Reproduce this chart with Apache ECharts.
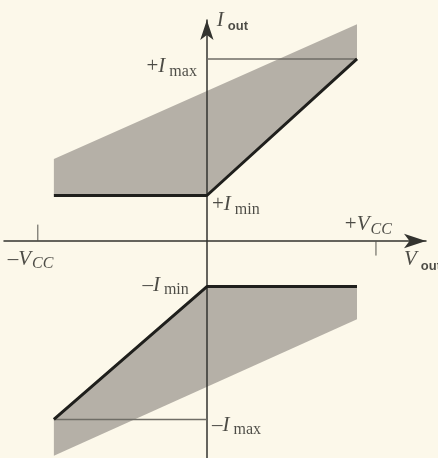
<!DOCTYPE html>
<html>
<head>
<meta charset="utf-8">
<title>I_out - V_out</title>
<script src="https://cdn.jsdelivr.net/npm/echarts@6/dist/echarts.min.js"></script>
<style>
html, body { margin: 0; padding: 0; background: #fcf8ea; }
#main { width: 438px; height: 458px; }
</style>
</head>
<body>
<div id="main"></div>
<script type="text/javascript">
// x: 以 Vcc 为 1, y: 以 Imax 为 1
var upperShade = [[-0.905, 0.25], [-0.905, 0.45], [0.888, 1.19], [0.888, 1.0], [0, 0.25]];
var lowerShade = [[-0.905, -0.98], [0, -0.25], [0.888, -0.25], [0.888, -0.43], [-0.905, -1.18]];
var upperCurve = [[-0.905, 0.25], [0, 0.25], [0.888, 1.0]];
var lowerCurve = [[-0.905, -0.98], [0, -0.25], [0.888, -0.25]];
var imaxUpper = [[0, 1.0], [0.888, 1.0]];
var imaxLower = [[-0.905, -0.98], [0, -0.98]];
var tickNeg = [[-1, 0], [-1, 0.09]];
var tickPos = [[1, 0], [1, -0.08]];

var labelText = [
  '{i|I}{o|out}',
  '{n|+}{i|I}{s|max}',
  '{n|+}{i|I}{s|min}',
  '{n|+}{i|V}{c|CC}',
  '{i|V}{o|out}',
  '{n|–}{i|V}{c|CC}',
  '{n|–}{i|I}{s|min}',
  '{n|–}{i|I}{s|max}'
];
var labelAt = [
  [0.059, 1.209], [-0.059, 0.956], [0.030, 0.198], [0.816, 0.088],
  [1.166, -0.104], [-1.178, -0.099], [-0.107, -0.242], [0.030, -1.011]
];
var labelSide = ['left', 'right', 'left', 'left', 'left', 'left', 'right', 'left'];

var ink = '#1f1f1c';
var serif = 'Liberation Serif';

var myChart = echarts.init(document.getElementById('main'));

function shade(pts) {
  return function (params, api) {
    if (params.dataIndex !== 0) return;
    var points = pts.map(function (p) { return api.coord(p); });
    return { type: 'polygon', shape: { points: points }, style: { fill: '#b5b0a7' } };
  };
}

function segment(data, width, color) {
  return {
    type: 'line', data: data, symbol: 'none', z: 4, silent: true,
    lineStyle: { width: width, color: color }
  };
}

var labelData = labelAt.map(function (p, i) {
  return {
    value: p,
    label: { formatter: labelText[i], align: labelSide[i] }
  };
});

var option = {
  backgroundColor: '#fcf8ea',
  animation: false,
  grid: { left: 4, top: 20, width: 422, height: 438 },
  xAxis: {
    type: 'value', min: -1.2, max: 1.296, z: 3,
    splitLine: { show: false }, axisTick: { show: false }, axisLabel: { show: false },
    axisLine: { onZero: true, lineStyle: { color: '#33332f', width: 1.5 },
      symbol: ['none', 'arrow'], symbolSize: [11, 22] }
  },
  yAxis: {
    type: 'value', min: -1.192, max: 1.214, z: 3,
    splitLine: { show: false }, axisTick: { show: false }, axisLabel: { show: false },
    axisLine: { onZero: true, lineStyle: { color: '#33332f', width: 1.5 },
      symbol: ['none', 'arrow'], symbolSize: [10, 20] }
  },
  series: [
    { type: 'custom', data: upperShade, renderItem: shade(upperShade), z: 1, silent: true },
    { type: 'custom', data: lowerShade, renderItem: shade(lowerShade), z: 1, silent: true },
    segment(imaxUpper, 1.5, '#6f6d66'),
    segment(imaxLower, 1.5, '#6f6d66'),
    segment(tickNeg, 1, '#55544e'),
    segment(tickPos, 1, '#55544e'),
    segment(upperCurve, 3, ink),
    segment(lowerCurve, 3, ink),
    {
      type: 'scatter', data: labelData, symbolSize: 0, z: 5, silent: true,
      label: {
        show: true, position: [0, 0], verticalAlign: 'middle', color: ink,
        rich: {
          n: { fontFamily: serif, fontSize: 21, color: ink },
          i: { fontFamily: serif, fontSize: 21, fontStyle: 'italic', color: ink },
          s: { fontFamily: serif, fontSize: 16, color: ink, padding: [9, 0, 0, 4] },
          c: { fontFamily: serif, fontSize: 16, fontStyle: 'italic', color: ink, padding: [9, 0, 0, 1] },
          o: { fontFamily: 'Liberation Sans', fontSize: 13, fontWeight: 'bold', color: ink, padding: [12, 0, 0, 4] }
        }
      }
    }
  ]
};
myChart.setOption(option);
</script>
</body>
</html>
